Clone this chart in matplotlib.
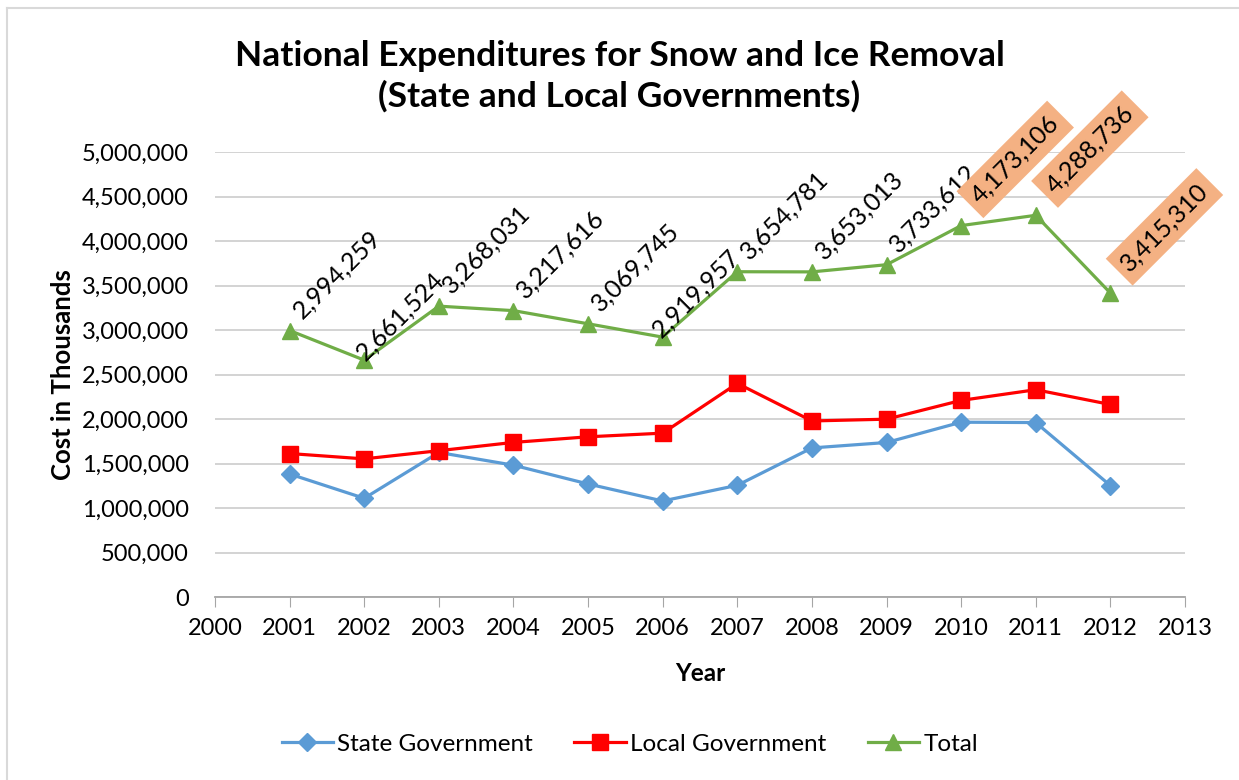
import matplotlib.pyplot as plt
from matplotlib.lines import Line2D

plt.rcParams['font.family'] = ['Lato', 'DejaVu Sans']

years = [2001, 2002, 2003, 2004, 2005, 2006, 2007, 2008, 2009, 2010, 2011, 2012]
state = [1382000, 1109000, 1624000, 1481000, 1270000, 1079000,
         1255000, 1675000, 1736000, 1964000, 1960000, 1252000]
local = [1612000, 1552000, 1644000, 1737000, 1800000, 1841000,
         2400000, 1978000, 1998000, 2209000, 2329000, 2163000]
total = [2994259, 2661524, 3268031, 3217616, 3069745, 2919957,
         3654781, 3653013, 3733612, 4173106, 4288736, 3415310]
boxed_years = [2010, 2011, 2012]

fig = plt.figure(figsize=(12.39, 7.8), dpi=100)
ax = fig.add_axes([215 / 1239, 1 - 597 / 780, 970 / 1239, 445 / 780])

# chart area border (only left/top visible in the crop)
fig.add_artist(Line2D([7 / 1239, 7 / 1239], [0, 1 - 8 / 780], color='#D9D9D9', lw=1.5))
fig.add_artist(Line2D([7 / 1239, 1], [1 - 8 / 780, 1 - 8 / 780], color='#D9D9D9', lw=1.5))

ax.plot(years, state, color='#5B9BD5', lw=2.3, marker='D', ms=9, label='State Government', zorder=3)
ax.plot(years, local, color='#FF0000', lw=2.3, marker='s', ms=11, label='Local Government', zorder=3)
ax.plot(years, total, color='#70AD47', lw=2.3, marker='^', ms=11, label='Total', zorder=3)

# Excel nudged a couple of labels down to avoid collisions
nudged = {2002: (3, -3), 2006: (1, -3)}

for yr, v in zip(years, total):
    txt = f'{v:,}'
    if yr in boxed_years:
        ax.annotate(txt, (yr, v), xytext=(16, 13), textcoords='offset points',
                    rotation=45, rotation_mode='anchor', ha='left', va='bottom',
                    fontsize=18, zorder=5,
                    bbox=dict(boxstyle='square,pad=0.3', fc='#F4B183', ec='none'))
    else:
        ax.annotate(txt, (yr, v), xytext=nudged.get(yr, (11, 6)), textcoords='offset points',
                    rotation=45, rotation_mode='anchor', ha='left', va='bottom',
                    fontsize=18, zorder=5)

ax.set_xlim(2000, 2013)
ax.set_ylim(0, 5000000)
ax.set_xticks(range(2000, 2014))
ax.set_yticks(range(0, 5000001, 500000))
ax.yaxis.set_major_formatter(plt.FuncFormatter(lambda v, p: f'{int(v):,}'))
ax.tick_params(axis='y', length=0, labelsize=17, pad=19)
ax.tick_params(axis='x', length=7, color='#A6A6A6', labelsize=17, pad=8)
ax.grid(axis='y', color='#D0D0D0', lw=1.3)
ax.set_axisbelow(True)
for s in ['left', 'right', 'top']:
    ax.spines[s].set_visible(False)
ax.spines['bottom'].set_color('#A6A6A6')
ax.spines['bottom'].set_linewidth(1.3)

ax.set_xlabel('Year', fontsize=17.5, fontweight='bold', labelpad=17)
ax.set_ylabel('Cost in Thousands', fontsize=18.5, fontweight='bold', labelpad=5)

fig.text(0.5, 1 - 76 / 780, 'National Expenditures for Snow and Ice Removal\n(State and Local Governments)',
         ha='center', va='center', fontsize=25.5, fontweight='bold', linespacing=1.3)

fig.legend(loc='center', bbox_to_anchor=(630 / 1239, 1 - 744 / 780), ncol=3, frameon=False,
           fontsize=17.5, handlelength=2.1, columnspacing=1.7, handletextpad=0.2)

fig.savefig('out.png', dpi=100)
